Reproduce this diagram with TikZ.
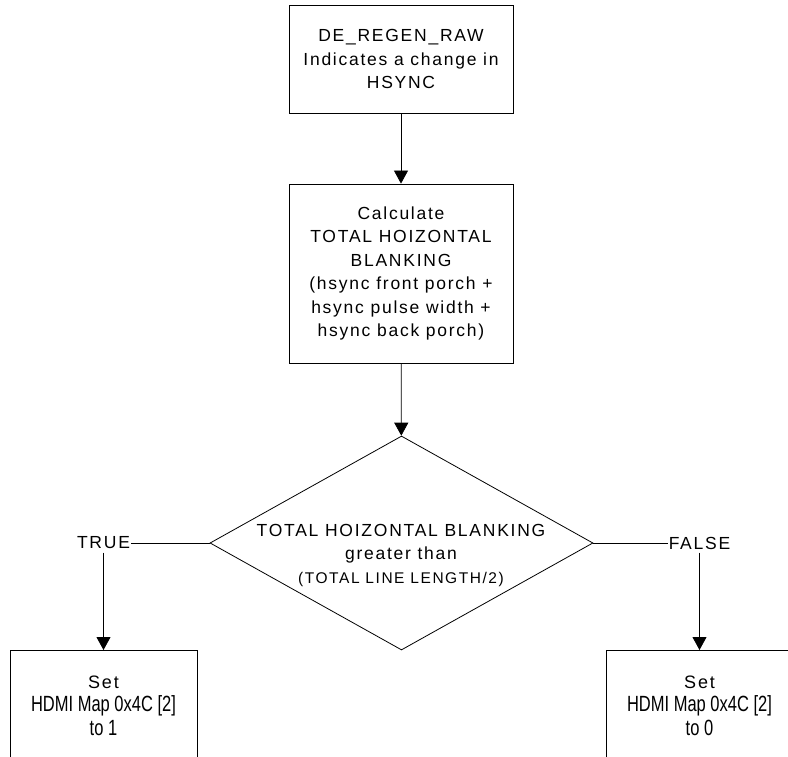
\documentclass[tikz,border=0pt]{standalone}
\usepackage{fontspec}
\setmainfont{Liberation Sans}
\newfontfamily\spaced[LetterSpace=10]{Liberation Sans}
\newfontfamily\narrow[FakeStretch=0.75]{Liberation Sans}
\usetikzlibrary{shapes.geometric, arrows.meta}

\begin{document}
\begin{tikzpicture}[x=1pt, y=-1pt,
    block/.style={draw, rectangle, line width=0.8pt, align=center,
        minimum width=224, minimum height=108,
        font=\spaced\fontsize{17.5}{23.5}\selectfont},
    decision/.style={draw, diamond, line width=0.8pt, inner sep=0pt,
        minimum width=383, minimum height=214},
    result/.style={block, anchor=north, minimum width=187, minimum height=110,
        font=\narrow\fontsize{22}{23.5}\selectfont},
    label/.style={font=\spaced\fontsize{17.5}{23.5}\selectfont},
    flow/.style={-{Triangle[length=13pt, width=14pt]}, line width=0.8pt}]
    \useasboundingbox (0,0) rectangle (788,757);
    \clip (0,0) rectangle (788,757);

    \node[block] (regen) at (401,59) {DE\_REGEN\_RAW\\Indicates a change in\\HSYNC};
    \node[block, minimum height=179] (calc) at (401,273.5)
        {Calculate\\TOTAL HOIZONTAL\\BLANKING\\(hsync front porch +\\hsync pulse width +\\hsync back porch)};

    % decision
    \node[decision] (cmp) at (401.5,543) {};
    \node[label, align=center] (cmptxt) at (401,555)
        {TOTAL HOIZONTAL BLANKING\\greater than\\{\fontsize{15.5}{23.5}\selectfont (TOTAL LINE LENGTH/2)}};

    \node[label, inner xsep=1pt] (true) at (103.5,543) {TRUE};
    \node[label, inner xsep=1pt] (false) at (699.5,543) {FALSE};

    \node[result] (setone) at (103.5,650)
        {{\spaced\fontsize{18}{23.5}\selectfont Set}\\HDMI Map 0x4C [2]\\to 1};
    \node[result] (setzero) at (699.5,650)
        {{\spaced\fontsize{18}{23.5}\selectfont Set}\\HDMI Map 0x4C [2]\\to 0};

    \draw[flow] (regen) -- (calc);
    \draw[flow] (calc) -- (cmp);
    \draw[line width=0.8pt] (cmp.west) -- (true.east);
    \draw[line width=0.8pt] (cmp.east) -- (false.west);
    \draw[flow] (true) -- (setone);
    \draw[flow] (false) -- (setzero);
\end{tikzpicture}
\end{document}
